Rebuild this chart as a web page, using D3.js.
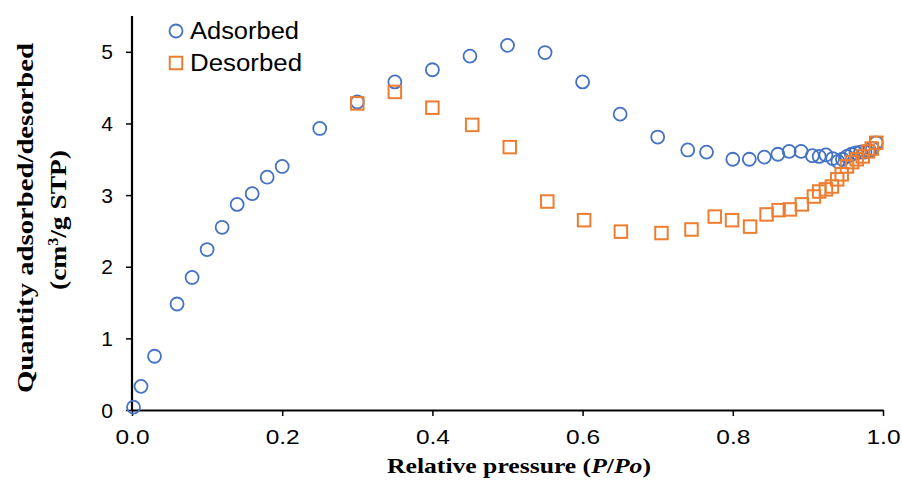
<!DOCTYPE html>
<html>
<head>
<meta charset="utf-8">
<script src="https://cdn.jsdelivr.net/npm/d3@7"></script>
<style>
  html, body { margin: 0; padding: 0; background: #fff; overflow: hidden; }
  svg { display: block; }
</style>
</head>
<body>
<div id="chart"></div>
<script>
// Adsorption branch (relative pressure, quantity)
const adsX = [0.002, 0.012, 0.03, 0.06, 0.08, 0.10, 0.12, 0.14, 0.16, 0.18, 0.20, 0.25, 0.30, 0.35, 0.40, 0.45, 0.50, 0.55, 0.60, 0.65, 0.70,
              0.74, 0.765, 0.80, 0.822, 0.842, 0.86, 0.875, 0.891, 0.906, 0.915, 0.924, 0.933, 0.940, 0.946, 0.952, 0.958, 0.964, 0.970, 0.976, 0.982, 0.986, 0.991];
const adsY = [0.04, 0.33, 0.75, 1.48, 1.85, 2.24, 2.55, 2.87, 3.02, 3.25, 3.40, 3.93, 4.30, 4.58, 4.75, 4.94, 5.09, 4.99, 4.58, 4.13, 3.81,
              3.63, 3.60, 3.50, 3.50, 3.53, 3.57, 3.61, 3.61, 3.55, 3.54, 3.56, 3.51, 3.47, 3.50, 3.54, 3.57, 3.59, 3.60, 3.60, 3.62, 3.65, 3.73];

// Desorption branch
const desX = [0.30, 0.35, 0.40, 0.453, 0.503, 0.553, 0.602, 0.651, 0.705, 0.745, 0.776, 0.799, 0.823, 0.845, 0.861, 0.876, 0.892, 0.908, 0.915, 0.924,
              0.932, 0.939, 0.945, 0.952, 0.959, 0.965, 0.973, 0.980, 0.985, 0.991];
const desY = [4.28, 4.44, 4.22, 3.98, 3.67, 2.91, 2.65, 2.49, 2.47, 2.52, 2.70, 2.65, 2.56, 2.73, 2.79, 2.80, 2.87, 2.98, 3.05, 3.08,
              3.12, 3.22, 3.29, 3.40, 3.46, 3.50, 3.54, 3.61, 3.65, 3.73];

const xTicks = [0, 0.2, 0.4, 0.6, 0.8, 1.0];
const yTicks = [0, 1, 2, 3, 4, 5];
const seriesNames = ["Adsorbed", "Desorbed"];

const width = 902, height = 481;
const margin = { top: 16, right: 19, bottom: 71, left: 132 };
const innerWidth = width - margin.left - margin.right;
const innerHeight = height - margin.top - margin.bottom;

const blue = "#4472C4", orange = "#ED7D31";
const sans = "'Liberation Sans', Arial, sans-serif";
const serif = "'Liberation Serif', 'DejaVu Serif', serif";

const svg = d3.select("#chart").append("svg")
  .attr("width", width)
  .attr("height", height);

const g = svg.append("g")
  .attr("transform", `translate(${margin.left},${margin.top})`);

const x = d3.scaleLinear().domain([0, 1]).range([0, innerWidth]);
const y = d3.scaleLinear().domain([0, 5.5]).range([innerHeight, 0]);

// Axes
const xAxis = g.append("g")
  .attr("transform", `translate(0,${innerHeight})`)
  .call(d3.axisBottom(x).tickValues(xTicks).tickFormat(d3.format(".1f")).tickSize(6).tickSizeOuter(0));
const yAxis = g.append("g")
  .call(d3.axisLeft(y).tickValues(yTicks).tickFormat(d3.format("d")).tickSize(6).tickSizeOuter(0));

[xAxis, yAxis].forEach(a => {
  a.attr("font-size", 21).attr("font-family", sans);
  a.select(".domain").attr("stroke", "#000").attr("stroke-width", 2.2);
  a.selectAll(".tick line").attr("stroke", "#000").attr("stroke-width", 1.5);
  a.selectAll("text").attr("fill", "#000");
});
yAxis.select(".domain").attr("d", `M0,${innerHeight}V0`);
xAxis.selectAll("text").attr("y", 34).attr("dy", null)
  .attr("textLength", 34).attr("lengthAdjust", "spacingAndGlyphs");
yAxis.selectAll("text").attr("x", -19).attr("y", 7).attr("dy", null);

// Points
const ads = adsX.map((v, i) => ({ x: v, y: adsY[i] }));
const des = desX.map((v, i) => ({ x: v, y: desY[i] }));

g.selectAll(".ads").data(ads).enter().append("circle")
  .attr("class", "ads")
  .attr("cx", d => x(d.x))
  .attr("cy", d => y(d.y))
  .attr("r", 6.5)
  .attr("fill", "none")
  .attr("stroke", blue)
  .attr("stroke-width", 1.8);

const s = 12.5;
g.selectAll(".des").data(des).enter().append("rect")
  .attr("class", "des")
  .attr("x", d => x(d.x) - s / 2)
  .attr("y", d => y(d.y) - s / 2)
  .attr("width", s)
  .attr("height", s)
  .attr("fill", "none")
  .attr("stroke", orange)
  .attr("stroke-width", 2);

// Legend
const legend = svg.append("g").attr("transform", "translate(176,31)");
legend.append("circle").attr("cx", 0).attr("cy", 0).attr("r", 6.5)
  .attr("fill", "none").attr("stroke", blue).attr("stroke-width", 1.8);
legend.append("rect").attr("x", -s / 2).attr("y", 32 - s / 2).attr("width", s).attr("height", s)
  .attr("fill", "none").attr("stroke", orange).attr("stroke-width", 2);
legend.selectAll("text").data(seriesNames).enter().append("text")
  .attr("x", 14)
  .attr("y", (d, i) => i * 32 + 8)
  .attr("textLength", (d, i) => i === 0 ? 109 : 112)
  .attr("lengthAdjust", "spacingAndGlyphs")
  .attr("font-family", sans)
  .attr("font-size", 23)
  .attr("fill", "#000")
  .text(d => d);

// X axis title
const xt = svg.append("text")
  .attr("x", 519)
  .attr("y", 473)
  .attr("text-anchor", "middle")
  .attr("textLength", 264)
  .attr("lengthAdjust", "spacingAndGlyphs")
  .attr("font-family", serif)
  .attr("font-weight", "bold")
  .attr("font-size", 21);
xt.append("tspan").text("Relative pressure (");
xt.append("tspan").attr("font-style", "italic").text("P");
xt.append("tspan").text("/");
xt.append("tspan").attr("font-style", "italic").text("Po");
xt.append("tspan").text(")");

// Y axis title (two lines)
svg.append("text")
  .attr("transform", "translate(33,218) rotate(-90)")
  .attr("text-anchor", "middle")
  .attr("textLength", 350)
  .attr("lengthAdjust", "spacingAndGlyphs")
  .attr("font-family", serif)
  .attr("font-weight", "bold")
  .attr("font-size", 24)
  .text("Quantity adsorbed/desorbed");

const yt2 = svg.append("text")
  .attr("transform", "translate(66,220) rotate(-90)")
  .attr("text-anchor", "middle")
  .attr("textLength", 140)
  .attr("lengthAdjust", "spacingAndGlyphs")
  .attr("font-family", serif)
  .attr("font-weight", "bold")
  .attr("font-size", 24);
yt2.append("tspan").text("(cm");
yt2.append("tspan").attr("dy", -8).attr("font-size", 14).text("3");
yt2.append("tspan").attr("dy", 8).text("/g STP)");
</script>
</body>
</html>
